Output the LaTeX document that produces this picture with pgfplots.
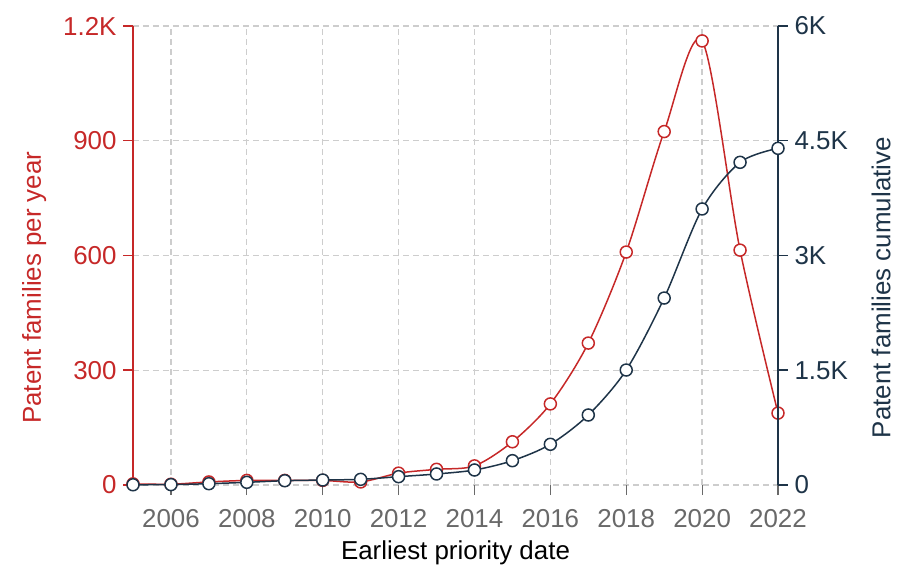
\documentclass[border=0pt]{standalone}
\usepackage{pgfplots}
\pgfplotsset{compat=1.18}
\usepackage{fontspec}
\setmainfont{Liberation Sans}

\definecolor{cred}{RGB}{198,40,40}
\definecolor{cnavy}{RGB}{30,52,72}
\definecolor{tgray}{RGB}{105,105,105}
\definecolor{ggray}{RGB}{205,205,205}

\pgfplotstableread{
year  peryear cumul
2005  3    3
2006  2    5
2007  8    17
2008  12   35
2009  12   56
2010  12   65
2011  8    74
2012  31   109
2013  41   144
2014  50   196
2015  113  318
2016  212  532
2017  371  915
2018  609  1503
2019  924  2444
2020  1161 3608
2021  614  4218
2022  188  4401
}\patents

\pgfplotsset{
  base/.style={
    scale only axis, width=645bp, height=459bp,
    xmin=2005, xmax=2022, ymin=0,
    xtick={2006,2008,...,2022},
    xticklabel style={/pgf/number format/1000 sep={}},
    /pgf/number format/assume math mode=true,
    tick label style={font=\fontsize{26}{30}\selectfont},
    label style={font=\fontsize{26}{31}\selectfont},
    tick align=outside, major tick length=10bp,
    clip=false,
  }
}

\begin{document}
\begin{tikzpicture}

\begin{axis}[base,
  ymax=1200,
  axis x line*=bottom, axis y line*=left,
  x axis line style={draw=none},
  xtick style={tgray, line width=1.2bp},
  xticklabel style={tgray, yshift=-11bp},
  y axis line style={cred, line width=1.5bp},
  ytick style={cred, line width=1.5bp},
  yticklabel style={cred, xshift=-3bp},
  ytick={0,300,...,1200},
  yticklabels={0,300,600,900,1.2K},
  grid=major,
  major grid style={ggray, dash pattern=on 6bp off 4bp, line width=1.3bp},
  xlabel={Earliest priority date},
  xlabel style={yshift=-6bp},
  ylabel={Patent families per year},
  ylabel style={cred, at={(ticklabel cs:0.43)}, yshift=10bp},
]
\coordinate (bl) at (rel axis cs:0,0);
\addplot[cred, line width=1.5bp, smooth, mark=*, mark size=6bp,
  mark options={fill=white, draw=cred, line width=1.5bp}]
  table[x=year, y=peryear] {\patents};
\end{axis}

\begin{axis}[base,
  ymax=6000,
  axis x line=none, axis y line*=right,
  y axis line style={cnavy, line width=1.5bp},
  ytick style={cnavy, line width=1.5bp},
  yticklabel style={cnavy, xshift=3bp},
  ytick={0,1500,...,6000},
  yticklabels={0,1.5K,3K,4.5K,6K},
  ylabel={Patent families cumulative},
  ylabel style={cnavy, at={(ticklabel cs:0.43)}, yshift=-17bp},
]
\addplot[cnavy, line width=1.5bp, smooth, mark=*, mark size=6bp,
  mark options={fill=white, draw=cnavy, line width=1.5bp}]
  table[x=year, y=cumul] {\patents};
\end{axis}

\pgfresetboundingbox
\path[use as bounding box] (bl) ++(-133bp,-88bp) rectangle ++(917bp,573bp);
\end{tikzpicture}
\end{document}
